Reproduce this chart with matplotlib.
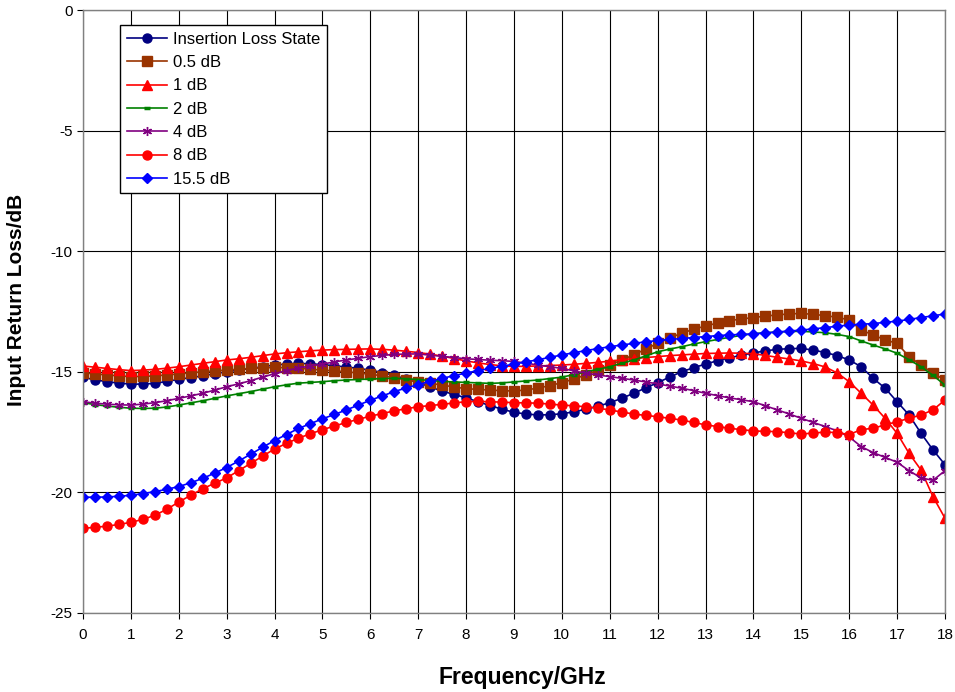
import numpy as np
import matplotlib
matplotlib.use("Agg")
import matplotlib.pyplot as plt

plt.rcParams['font.family'] = ['Liberation Sans', 'DejaVu Sans']
plt.rcParams['axes.unicode_minus'] = False

# frequency grid, GHz (one sample every 0.25 GHz)
freq = np.arange(73) * 0.25

insertion = [-15.23, -15.33, -15.41, -15.47, -15.51, -15.51, -15.48, -15.40, -15.31, -15.24,
             -15.17, -15.08, -15.00, -14.93, -14.86, -14.79, -14.72, -14.68, -14.65, -14.67,
             -14.70, -14.75, -14.80, -14.86, -14.93, -15.03, -15.15, -15.30, -15.45, -15.63,
             -15.80, -15.94, -16.08, -16.24, -16.40, -16.55, -16.68, -16.75, -16.79, -16.78,
             -16.74, -16.66, -16.55, -16.43, -16.28, -16.10, -15.89, -15.67, -15.45, -15.22,
             -15.00, -14.83, -14.68, -14.54, -14.42, -14.31, -14.22, -14.13, -14.07, -14.04,
             -14.03, -14.10, -14.20, -14.33, -14.51, -14.79, -15.27, -15.68, -16.24, -16.79,
             -17.55, -18.24, -18.85]

db_0_5 = [-15.04, -15.09, -15.13, -15.17, -15.20, -15.19, -15.17, -15.13, -15.09, -15.04,
          -15.00, -14.96, -14.93, -14.89, -14.86, -14.84, -14.82, -14.83, -14.85, -14.89,
          -14.93, -14.96, -15.00, -15.05, -15.10, -15.17, -15.24, -15.33, -15.41, -15.48,
          -15.55, -15.63, -15.70, -15.73, -15.76, -15.78, -15.80, -15.75, -15.68, -15.57,
          -15.45, -15.30, -15.13, -14.93, -14.72, -14.51, -14.30, -14.06, -13.82, -13.60,
          -13.40, -13.24, -13.10, -12.98, -12.88, -12.81, -12.75, -12.69, -12.64, -12.60,
          -12.58, -12.62, -12.67, -12.74, -12.85, -13.27, -13.47, -13.68, -13.82, -14.37,
          -14.72, -15.06, -15.34]

db_1 = [-14.76, -14.81, -14.86, -14.91, -14.95, -14.93, -14.90, -14.85, -14.79, -14.72,
        -14.65, -14.58, -14.51, -14.46, -14.40, -14.33, -14.26, -14.21, -14.17, -14.13,
        -14.10, -14.08, -14.07, -14.06, -14.05, -14.07, -14.10, -14.15, -14.20, -14.27,
        -14.35, -14.45, -14.55, -14.63, -14.70, -14.75, -14.78, -14.77, -14.76, -14.74,
        -14.72, -14.69, -14.65, -14.61, -14.56, -14.50, -14.45, -14.41, -14.37, -14.33,
        -14.30, -14.27, -14.24, -14.23, -14.22, -14.23, -14.25, -14.32, -14.40, -14.47,
        -14.55, -14.66, -14.80, -15.05, -15.41, -15.89, -16.38, -16.93, -17.55, -18.38,
        -19.07, -20.18, -21.07]

db_2 = [-16.28, -16.36, -16.42, -16.47, -16.51, -16.52, -16.51, -16.46, -16.38, -16.29,
        -16.20, -16.10, -16.00, -15.91, -15.82, -15.72, -15.62, -15.54, -15.47, -15.44,
        -15.41, -15.37, -15.34, -15.32, -15.30, -15.28, -15.27, -15.29, -15.32, -15.36,
        -15.40, -15.42, -15.44, -15.46, -15.48, -15.46, -15.42, -15.38, -15.34, -15.28,
        -15.22, -15.12, -15.00, -14.90, -14.79, -14.65, -14.51, -14.34, -14.17, -14.06,
        -13.96, -13.85, -13.75, -13.66, -13.57, -13.49, -13.42, -13.38, -13.35, -13.33,
        -13.32, -13.35, -13.38, -13.45, -13.54, -13.72, -13.89, -14.05, -14.23, -14.50,
        -14.79, -15.15, -15.55]

db_4 = [-16.24, -16.30, -16.34, -16.37, -16.38, -16.34, -16.28, -16.20, -16.10, -16.00,
        -15.89, -15.76, -15.62, -15.50, -15.37, -15.22, -15.08, -14.95, -14.84, -14.76,
        -14.68, -14.59, -14.51, -14.44, -14.37, -14.32, -14.28, -14.26, -14.26, -14.31,
        -14.36, -14.41, -14.46, -14.49, -14.52, -14.54, -14.57, -14.64, -14.72, -14.79,
        -14.86, -14.96, -15.06, -15.13, -15.20, -15.27, -15.34, -15.42, -15.50, -15.59,
        -15.68, -15.78, -15.89, -15.99, -16.08, -16.16, -16.24, -16.41, -16.58, -16.75,
        -16.93, -17.10, -17.27, -17.45, -17.70, -18.10, -18.35, -18.55, -18.75, -19.10,
        -19.40, -19.50, -19.10]

db_8 = [-21.49, -21.45, -21.40, -21.33, -21.24, -21.12, -20.95, -20.70, -20.40, -20.12,
        -19.85, -19.62, -19.40, -19.10, -18.80, -18.50, -18.20, -17.97, -17.75, -17.57,
        -17.40, -17.25, -17.10, -16.97, -16.84, -16.73, -16.62, -16.53, -16.45, -16.40,
        -16.35, -16.29, -16.24, -16.23, -16.24, -16.26, -16.28, -16.29, -16.30, -16.34,
        -16.38, -16.41, -16.45, -16.51, -16.58, -16.67, -16.75, -16.81, -16.86, -16.93,
        -17.00, -17.10, -17.20, -17.27, -17.34, -17.40, -17.45, -17.47, -17.48, -17.53,
        -17.58, -17.54, -17.50, -17.52, -17.60, -17.40, -17.34, -17.20, -17.07, -16.93,
        -16.79, -16.58, -16.17]

db_15_5 = [-20.20, -20.20, -20.19, -20.16, -20.12, -20.05, -19.97, -19.87, -19.76, -19.60,
           -19.42, -19.20, -18.97, -18.70, -18.42, -18.13, -17.85, -17.60, -17.35, -17.15,
           -16.95, -16.77, -16.58, -16.38, -16.18, -16.00, -15.82, -15.67, -15.53, -15.40,
           -15.27, -15.16, -15.05, -14.95, -14.86, -14.77, -14.68, -14.59, -14.50, -14.40,
           -14.30, -14.21, -14.12, -14.04, -13.96, -13.89, -13.82, -13.76, -13.70, -13.66,
           -13.62, -13.58, -13.54, -13.50, -13.47, -13.45, -13.43, -13.39, -13.35, -13.31,
           -13.27, -13.22, -13.17, -13.11, -13.06, -13.03, -13.00, -12.95, -12.90, -12.83,
           -12.75, -12.68, -12.60]

labels = ['Insertion Loss State', '0.5 dB', '1 dB', '2 dB', '4 dB', '8 dB', '15.5 dB']
series = [insertion, db_0_5, db_1, db_2, db_4, db_8, db_15_5]
colors = ['#000080', '#993300', '#FF0000', '#008000', '#800080', '#FF0000', '#0000FF']
markers = ['o', 's', '^', '_', (6, 2, 0), 'o', 'D']
msizes = [6.5, 6.5, 6.5, 4, 6.5, 6.5, 5.5]

fig = plt.figure(figsize=(9.55, 6.92), dpi=100)
ax = fig.add_axes([0.0869, 0.1142, 0.9026, 0.8713])

for vals, lab, c, m, ms in zip(series, labels, colors, markers, msizes):
    mew = 2.5 if m == '_' else 1.0
    ax.plot(freq, vals, '-', color=c, lw=1.2, marker=m, markersize=ms,
            markerfacecolor=c, markeredgecolor=c, markeredgewidth=mew, label=lab)

ax.set_xlim(0, 18)
ax.set_ylim(-25, 0)
ax.set_xticks(range(0, 19))
ax.set_yticks(range(-25, 1, 5))
ax.grid(True, color='black', lw=0.8)
ax.set_axisbelow(True)
for s in ax.spines.values():
    s.set_color('#808080')
    s.set_linewidth(1.0)
ax.tick_params(axis='both', labelsize=11, direction='out', length=4, color='black')
ax.tick_params(axis='x', pad=7)

ax.set_xlabel('Frequency/GHz', fontsize=16.5, fontweight='bold', labelpad=17)
ax.set_ylabel('Input Return Loss/dB', fontsize=15, fontweight='bold', labelpad=18)
ax.xaxis.label.set_x(0.51)
ax.yaxis.label.set_y(0.52)

leg = ax.legend(loc='upper left', bbox_to_anchor=(0.043, 0.975), borderaxespad=0,
                fontsize=12, fancybox=False, framealpha=1, edgecolor='black',
                handlelength=2.4, labelspacing=0.5, borderpad=0.4, handletextpad=0.4)
leg.get_frame().set_linewidth(1.0)

fig.savefig('out.png', dpi=100)
